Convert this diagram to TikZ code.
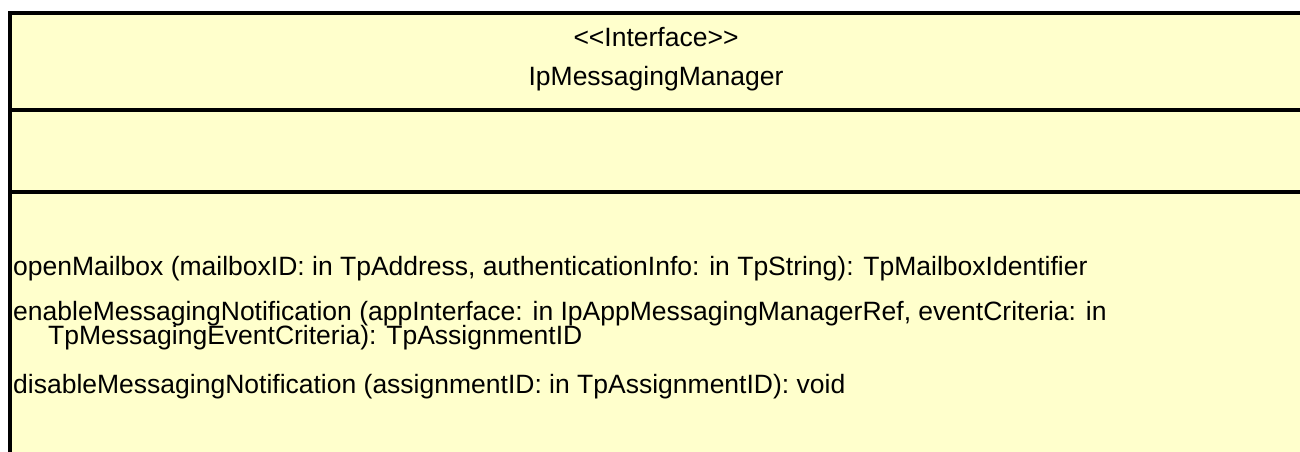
\documentclass[tikz,border=0pt]{standalone}
\usepackage{fontspec}
\newfontfamily\umlfont{Liberation Sans}
\definecolor{classfill}{HTML}{FFFFCC}

\begin{document}
\begin{tikzpicture}%
[x=1pt, y=-1pt,%
frame/.style={draw=black, line width=4pt, fill=classfill},%
divider/.style={draw=black, line width=3.3pt},%
label/.style={inner sep=0pt, font=\umlfont\fontsize{26.5}{30}\selectfont},%
operation/.style={label, anchor=base west}]
\useasboundingbox (0,0) rectangle (1300,452);
\begin{scope}
\clip (0,0) rectangle (1300,452);
\draw[frame] (10,13) rectangle (1302,480);
\end{scope}
\coordinate (nameL) at (10,110);
\coordinate (nameR) at (1300,110);
\coordinate (attrL) at (10,192);
\coordinate (attrR) at (1300,192);
\draw[divider] (nameL) -- (nameR);
\draw[divider] (attrL) -- (attrR);
\node[label, anchor=base] (stereotype) at (656,47) {<<Interface>>};
\node[label, anchor=base] (classname) at (656,85) {IpMessagingManager};
\node[operation] (openmb) at (13,275) {openMailbox (mailboxID: in TpAddress, authenticationInfo: in TpString): TpMailboxIdentifier};
\node[operation] (enablenot) at (13,320) {enableMessagingNotification (appInterface: in IpAppMessagingManagerRef, eventCriteria: in};
\node[operation] (enablecont) at (48,344) {TpMessagingEventCriteria): TpAssignmentID};
\node[operation] (disablenot) at (13,393) {disableMessagingNotification (assignmentID: in TpAssignmentID): void};
\end{tikzpicture}
\end{document}
